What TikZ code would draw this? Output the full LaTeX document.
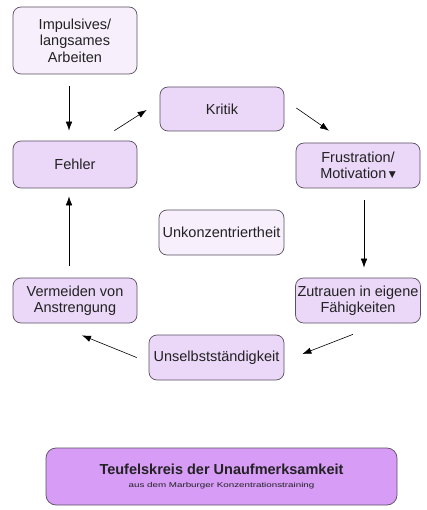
\documentclass[tikz,border=0pt]{standalone}
\usepackage{fontspec}
\usepackage{graphicx}
\setmainfont{Liberation Sans}
\newfontfamily\symfont{DejaVu Sans}
\usetikzlibrary{arrows.meta}
\definecolor{boxfill}{HTML}{EBD7F8}
\definecolor{lightfill}{HTML}{F7EFFC}
\definecolor{titlefill}{HTML}{D69CF6}
\definecolor{boxline}{HTML}{5A5060}
\definecolor{txt}{HTML}{222222}
\begin{document}
\begin{tikzpicture}[x=1pt,y=-1pt,
  box/.style={draw=boxline,line width=0.7pt,rounded corners=8pt,fill=boxfill,
    align=center,text=txt,inner sep=2pt,
    font=\fontsize{14.5}{16.5}\selectfont},
  lbox/.style={box,fill=lightfill},
  arr/.style={-{Latex[length=9pt,width=6.5pt]},line width=0.6pt,draw=black}]
\useasboundingbox (0,0) rectangle (427,510);
\fill[white] (0,0) rectangle (427,510);
\node[lbox,minimum width=124pt,minimum height=67pt] (imp) at (75,40.5) {Impulsives/\\langsames\\Arbeiten};
\node[box,minimum width=124pt,minimum height=47pt] (fehler) at (75,164.5) {Fehler};
\node[box,minimum width=124pt,minimum height=44pt] (kritik) at (222,109) {Kritik};
\node[box,minimum width=124pt,minimum height=45pt] (frust) at (358,165.5) {Frustration/\\Motivation\,\raisebox{1.5pt}{\symfont\fontsize{9}{9}\selectfont ▼}};
\node[lbox,minimum width=125pt,minimum height=45pt] (unk) at (221.5,232.5) {Unkonzentriertheit};
\node[box,minimum width=124pt,minimum height=45pt] (verm) at (75,300.5) {Vermeiden von\\Anstrengung};
\node[box,minimum width=124pt,minimum height=45pt] (zutr) at (358,300.5) {Zutrauen in eigene\\Fähigkeiten};
\node[box,minimum width=135pt,minimum height=45pt] (unsel) at (216.5,357.5) {Unselbstständigkeit};
\node[box,fill=titlefill,rounded corners=10pt,minimum width=351pt,minimum height=57pt] (title) at (221.5,476.5)
  {{\fontsize{14.5}{17}\selectfont\bfseries Teufelskreis der Unaufmerksamkeit}\\[-4pt]{\fontsize{7}{8}\selectfont\scalebox{1.4}[1]{aus dem Marburger Konzentrationstraining}}};
\draw[arr] ([xshift=-6pt,yshift=-12pt]imp.south) -- ([xshift=-6pt,yshift=10pt]fehler.north);
\draw[arr] ([xshift=-23pt,yshift=10pt]fehler.north east) -- ([xshift=-13pt,yshift=-1pt]kritik.west);
\draw[arr] ([xshift=12pt,yshift=1pt]kritik.east) -- ([xshift=-29pt,yshift=12pt]frust.north);
\draw[arr] ([xshift=6pt,yshift=-12pt]frust.south) -- ([xshift=6pt,yshift=10pt]zutr.north);
\draw[arr] ([xshift=-5pt,yshift=-11pt]zutr.south) -- ([xshift=18pt,yshift=3.5pt]unsel.east);
\draw[arr] ([xshift=-12pt]unsel.west) -- ([xshift=7pt,yshift=-12pt]verm.south);
\draw[arr] ([xshift=-6pt,yshift=12pt]verm.north) -- ([xshift=-6pt,yshift=-8pt]fehler.south);
\end{tikzpicture}
\end{document}
